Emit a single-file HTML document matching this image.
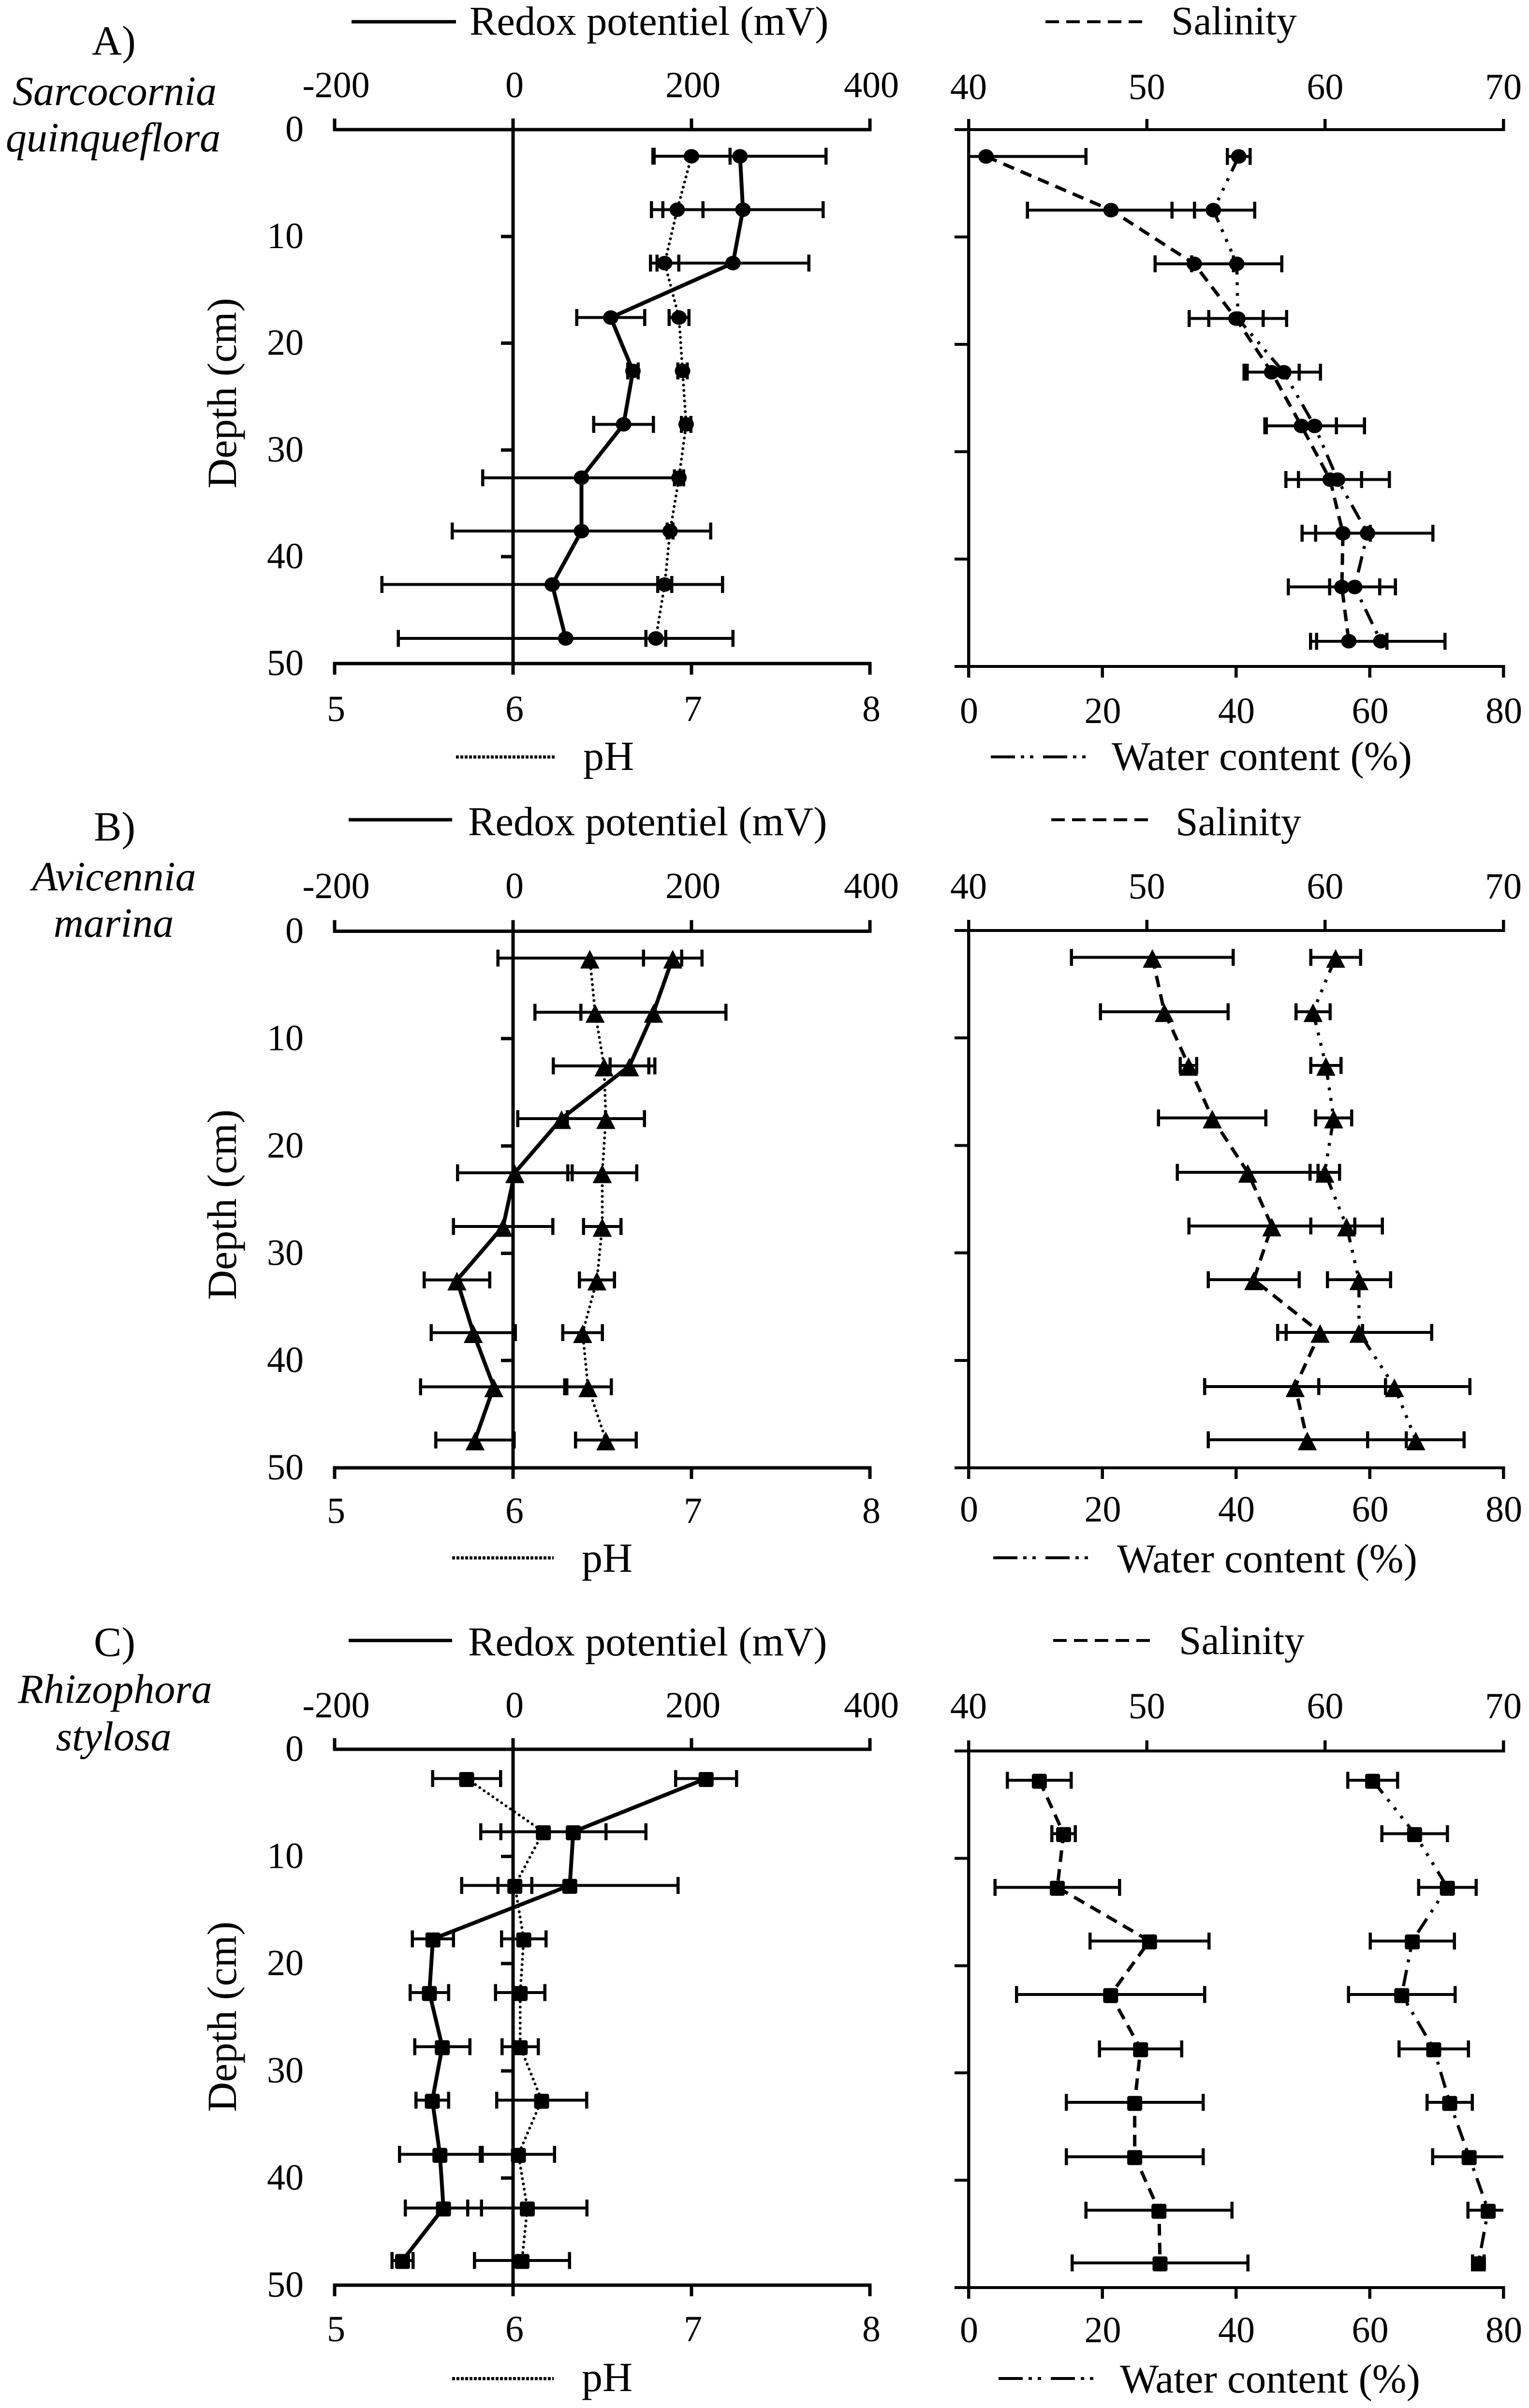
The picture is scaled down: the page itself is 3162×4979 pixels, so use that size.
<!DOCTYPE html>
<html lang="en">
<head>
<meta charset="utf-8">
<title>Soil profiles of redox potential, pH, salinity and water content</title>
<style>
html,body{margin:0;padding:0;background:#fff;}
svg{display:block;}
text{font-family:"Liberation Serif",serif;fill:#000;}
line{shape-rendering:crispEdges;}
</style>
</head>
<body>
<svg id="figure" xmlns="http://www.w3.org/2000/svg" width="3162" height="4979" viewBox="0 0 3162 4979">
<rect x="0" y="0" width="3162" height="4979" fill="#fff"/>

<g>
<text x="190" y="113" font-size="86">A)</text>
<text x="237" y="217" font-size="86" font-style="italic" text-anchor="middle">Sarcocornia</text>
<text x="234" y="313" font-size="86" font-style="italic" text-anchor="middle">quinqueflora</text>
</g>
<g>
<text x="194" y="1738" font-size="86">B)</text>
<text x="236" y="1841" font-size="86" font-style="italic" text-anchor="middle">Avicennia</text>
<text x="235" y="1937" font-size="86" font-style="italic" text-anchor="middle">marina</text>
</g>
<g>
<text x="194" y="3424" font-size="86">C)</text>
<text x="238" y="3521" font-size="86" font-style="italic" text-anchor="middle">Rhizophora</text>
<text x="235" y="3619" font-size="86" font-style="italic" text-anchor="middle">stylosa</text>
</g>

<g>
<line x1="727" y1="45" x2="943" y2="45" stroke="#000" stroke-width="7"/>
<text x="971" y="72" font-size="84.6">Redox potentiel (mV)</text>
<line x1="2162" y1="45" x2="2376" y2="45" stroke="#000" stroke-width="6" stroke-dasharray="28 15"/>
<text x="2422" y="71" font-size="83.5">Salinity</text>
<line x1="943" y1="1565" x2="1149" y2="1565" stroke="#000" stroke-width="6.5" stroke-dasharray="6 3"/>
<text x="1206" y="1592" font-size="86">pH</text>
<line x1="2049" y1="1565" x2="2246" y2="1565" stroke="#000" stroke-width="6" stroke-dasharray="50 12 7 12 7 20"/>
<text x="2299" y="1592" font-size="85">Water content (%)</text>
</g>
<g>
<line x1="721" y1="1695" x2="935" y2="1695" stroke="#000" stroke-width="7"/>
<text x="968" y="1727" font-size="84.6">Redox potentiel (mV)</text>
<line x1="2174" y1="1695" x2="2388" y2="1695" stroke="#000" stroke-width="6" stroke-dasharray="28 15"/>
<text x="2431" y="1727" font-size="83.5">Salinity</text>
<line x1="935" y1="3221" x2="1145" y2="3221" stroke="#000" stroke-width="6.5" stroke-dasharray="6 3"/>
<text x="1203" y="3250" font-size="86">pH</text>
<line x1="2054" y1="3221" x2="2254" y2="3221" stroke="#000" stroke-width="6" stroke-dasharray="50 12 7 12 7 20"/>
<text x="2310" y="3251" font-size="85">Water content (%)</text>
</g>
<g>
<line x1="721" y1="3392" x2="935" y2="3392" stroke="#000" stroke-width="7"/>
<text x="968" y="3423" font-size="84.6">Redox potentiel (mV)</text>
<line x1="2178" y1="3392" x2="2392" y2="3392" stroke="#000" stroke-width="6" stroke-dasharray="28 15"/>
<text x="2438" y="3420" font-size="83.5">Salinity</text>
<line x1="935" y1="4918" x2="1145" y2="4918" stroke="#000" stroke-width="6.5" stroke-dasharray="6 3"/>
<text x="1203" y="4944" font-size="86">pH</text>
<line x1="2065" y1="4918" x2="2266" y2="4918" stroke="#000" stroke-width="6" stroke-dasharray="50 12 7 12 7 20"/>
<text x="2316" y="4947" font-size="85">Water content (%)</text>
</g>

<g id="charts"></g>
</svg>

<script>
// ---- tick labels ----
const redoxTicks = [-200, 0, 200, 400];
const phTicks = [5, 6, 7, 8];
const salinityTicks = [40, 50, 60, 70];
const waterTicks = [0, 20, 40, 60, 80];
const depthTicks = [0, 10, 20, 30, 40, 50];

// ---- categories: sampling depth (cm) per panel ----
const depthA = [2.5, 7.5, 12.5, 17.6, 22.6, 27.6, 32.6, 37.6, 42.6, 47.65];
const depthB = [2.5, 7.55, 12.55, 17.45, 22.5, 27.5, 32.5, 37.4, 42.45, 47.4];
const depthC = [2.73, 7.7, 12.7, 17.7, 22.7, 27.75, 32.75, 37.8, 42.8, 47.7];

// ---- panel A: Sarcocornia quinqueflora ----
const redoxA = [254.4, 257.7, 246.5, 109.5, 134.4, 123.9, 76.7, 76.7, 43.9, 59];
const redoxErrA = [96.4, 89.8, 85.2, 38, 5.9, 33.4, 110.8, 144.9, 190.8, 187.5];
const phA = [7.0, 6.92, 6.85, 6.93, 6.95, 6.97, 6.93, 6.88, 6.85, 6.80];
const phErrA = [0.216, 0.144, 0.079, 0.056, 0.026, 0.026, 0.026, 0.016, 0.039, 0.056];
const salinityA = [40.98, 47.99, 52.66, 55, 57, 58.67, 60.28, 61, 60.94, 61.33];
const salinityErrA = [5.61, 4.69, 2.2, 1.53, 1.55, 1.97, 1.77, 1.53, 3.01, 2.14];
const waterA = [40.41, 36.62, 40.12, 40.29, 47.16, 51.76, 55.2, 59.68, 57.76, 61.66];
const waterErrA = [1.69, 6.17, 6.75, 7.28, 5.47, 7.45, 7.74, 9.78, 3.73, 9.61];

// ---- panel B: Avicennia marina ----
const redoxB = [179, 157.4, 130.5, 54.4, 2, -11.1, -62.9, -44.6, -21.6, -42.6];
const redoxErrB = [32.8, 81.3, 21.6, 49.2, 64.3, 55.7, 36.7, 47.2, 82, 43.9];
const phB = [6.43, 6.46, 6.51, 6.52, 6.50, 6.50, 6.47, 6.39, 6.42, 6.52];
const phErrB = [0.515, 0.338, 0.285, 0.216, 0.193, 0.105, 0.098, 0.111, 0.131, 0.17];
const salinityB = [50.31, 50.98, 52.34, 53.67, 55.66, 57.01, 56, 59.72, 58.32, 59];
const salinityErrB = [4.54, 3.58, 0.46, 3.01, 3.95, 4.65, 2.55, 2.38, 5.07, 5.55];
const waterB = [54.91, 51.53, 53.45, 54.61, 53.28, 56.54, 58.4, 58.4, 63.7, 66.9];
const waterErrB = [3.73, 2.56, 2.27, 2.68, 2.21, 5.36, 4.72, 10.89, 11.3, 7.22];

// ---- panel C: Rhizophora stylosa ----
const redoxC = [216.4, 67.5, 63.6, -89.8, -93.8, -79.3, -90.5, -82, -78, -123.9];
const redoxErrC = [34.1, 81.3, 121.3, 23, 21.6, 30.8, 18.4, 45.2, 42.6, 11.8];
const phC = [5.74, 6.17, 6.01, 6.06, 6.04, 6.04, 6.16, 6.03, 6.08, 6.05];
const phErrC = [0.19, 0.351, 0.095, 0.125, 0.138, 0.102, 0.252, 0.203, 0.334, 0.266];
const salinityC = [43.97, 45.33, 44.98, 50.15, 47.97, 49.65, 49.32, 49.32, 50.68, 50.74];
const salinityErrC = [1.79, 0.66, 3.49, 3.34, 5.28, 2.31, 3.84, 3.84, 4.1, 4.93];
const waterC = [60.44, 66.72, 71.62, 66.38, 64.8, 69.58, 71.97, 74.88, 77.73, 76.27];
const waterErrC = [3.73, 4.89, 4.31, 6.29, 7.98, 5.18, 3.38, 5.47, 3.03, 0.87];

const SVGNS = 'http://www.w3.org/2000/svg';
const LEFT_X0 = 692, LEFT_X1 = 1799, RIGHT_X0 = 2003, RIGHT_X1 = 3109;
const FONT = 76;

function node(parent, tag, attrs) {
  const el = document.createElementNS(SVGNS, tag);
  for (const k in attrs) el.setAttribute(k, attrs[k]);
  parent.appendChild(el);
  return el;
}
function scale(d0, d1, r0, r1) {
  return function (v) { return r0 + (v - d0) * (r1 - r0) / (d1 - d0); };
}

function drawAxisLine(g, x1, y1, x2, y2, w, name) {
  const el = node(g, 'line', {x1: x1, y1: y1, x2: x2, y2: y2, stroke: '#000', 'stroke-width': w});
  
  
}
function drawLabel(g, x, y, str, anchor, name) {
  const el = node(g, 'text', {x: x, y: y, 'font-size': FONT, 'text-anchor': anchor});
  el.textContent = str;
  
  
}

function drawMarker(g, shape, cx, cy, name) {
  let el;
  if (shape === 'circle') {
    el = node(g, 'ellipse', {cx: cx, cy: cy, rx: 16, ry: 15, fill: '#000'});
  } else if (shape === 'square') {
    el = node(g, 'rect', {x: cx - 15.5, y: cy - 13.5, width: 31, height: 31, rx: 4, fill: '#000'});
  } else {
    el = node(g, 'path', {d: 'M' + cx + ' ' + (cy - 16) + ' L' + (cx + 19) + ' ' + (cy + 21) + ' L' + (cx - 19) + ' ' + (cy + 21) + ' Z', fill: '#000', 'stroke': '#000', 'stroke-width': 1, 'stroke-linejoin': 'round'});
  }
  
  
}

function drawErrorBars(g, values, errors, depths, xs, ys, dMin, dMax, name) {
  values.forEach(function (v, i) {
    const y = ys(depths[i]);
    const lo = v - errors[i], hi = v + errors[i];
    const stem = node(g, 'line', {x1: xs(Math.max(lo, dMin)), y1: y, x2: xs(Math.min(hi, dMax)), y2: y, stroke: '#000', 'stroke-width': 6});
    
    
    [lo, hi].forEach(function (e) {
      if (e < dMin || e > dMax) return;
      const cap = node(g, 'line', {x1: xs(e), y1: y - 17.5, x2: xs(e), y2: y + 17.5, stroke: '#000', 'stroke-width': 6.5});
      
      
    });
  });
}

function drawSeries(g, values, depths, xs, ys, style, name) {
  const pts = values.map(function (v, i) { return xs(v) + ',' + ys(depths[i]); }).join(' ');
  const el = node(g, 'polyline', Object.assign({points: pts, fill: 'none', stroke: '#000'}, style));
  
  
}

function drawPanel(root, p) {
  const g = node(root, 'g', {});
  
  

  // ---------- left chart: redox (top axis) and pH (bottom axis) ----------
  const left = node(g, 'g', {});
  
  
  const xRedox = scale(redoxTicks[0], redoxTicks[redoxTicks.length - 1], LEFT_X0, LEFT_X1);
  const xPh = scale(phTicks[0], phTicks[phTicks.length - 1], LEFT_X0, LEFT_X1);
  const yL = scale(0, 50, p.leftTop, p.leftBottom);
  const zeroX = xRedox(0);

  drawErrorBars(left, p.redox, p.redoxErr, p.depth, xRedox, yL, -200, 400, 'redox');
  drawErrorBars(left, p.ph, p.phErr, p.depth, xPh, yL, 5, 8, 'ph');

  drawAxisLine(left, LEFT_X0 - 3, p.leftTop, LEFT_X1 + 3, p.leftTop, 7, 'redox-axis-line');
  drawAxisLine(left, LEFT_X0 - 3, p.leftBottom, LEFT_X1 + 3, p.leftBottom, 7, 'ph-axis-line');
  redoxTicks.forEach(function (t) {
    if (t !== 0) drawAxisLine(left, xRedox(t), p.leftTop - 23, xRedox(t), p.leftTop + 3, 7, 'redox-tick');
    drawLabel(left, xRedox(t) + 3, p.topLabelL, String(t), 'middle', 'redox-tick-label');
  });
  phTicks.forEach(function (t) {
    if (t !== 6) drawAxisLine(left, xPh(t), p.leftBottom - 3, xPh(t), p.leftBottom + 23, 7, 'ph-tick');
    drawLabel(left, xPh(t) + 3, p.bottomLabelL, String(t), 'middle', 'ph-tick-label');
  });
  drawAxisLine(left, zeroX, p.leftTop - 23, zeroX, p.leftBottom + 23, 7, 'depth-axis-line');
  depthTicks.forEach(function (t) {
    if (t !== 0 && t !== 50) drawAxisLine(left, zeroX - 25, yL(t), zeroX, yL(t), 7, 'depth-tick');
    drawLabel(left, 628, yL(t) + 24, String(t), 'end', 'depth-tick-label');
  });
  const title = node(left, 'text', {transform: 'translate(488 ' + p.depthTitleY + ') rotate(-90)', 'font-size': 86, 'text-anchor': 'middle'});
  title.textContent = 'Depth (cm)';
  
  

  drawSeries(left, p.ph, p.depth, xPh, yL, {'stroke-width': 6, 'stroke-dasharray': '0 11', 'stroke-linecap': 'round'}, 'ph');
  drawSeries(left, p.redox, p.depth, xRedox, yL, {'stroke-width': 8, 'stroke-linejoin': 'round'}, 'redox');
  p.ph.forEach(function (v, i) {
    drawMarker(left, p.marker, xPh(v), yL(p.depth[i]), 'ph-marker');
  });
  p.redox.forEach(function (v, i) {
    drawMarker(left, p.marker, xRedox(v), yL(p.depth[i]), 'redox-marker');
  });

  // ---------- right chart: salinity (top axis) and water content (bottom axis) ----------
  const right = node(g, 'g', {});
  
  
  const xSal = scale(salinityTicks[0], salinityTicks[salinityTicks.length - 1], RIGHT_X0, RIGHT_X1);
  const xWat = scale(waterTicks[0], waterTicks[waterTicks.length - 1], RIGHT_X0, RIGHT_X1);
  const yR = scale(0, 50, p.rightTop, p.rightBottom);

  drawErrorBars(right, p.salinity, p.salinityErr, p.depth, xSal, yR, 40, 70, 'salinity');
  drawErrorBars(right, p.water, p.waterErr, p.depth, xWat, yR, 0, 80, 'water');

  drawAxisLine(right, RIGHT_X0 - 29, p.rightTop, RIGHT_X1 + 3, p.rightTop, 6, 'salinity-axis-line');
  drawAxisLine(right, RIGHT_X0 - 29, p.rightBottom, RIGHT_X1 + 3, p.rightBottom, 6, 'water-axis-line');
  salinityTicks.forEach(function (t) {
    if (t !== 40) drawAxisLine(right, xSal(t), p.rightTop - 22, xSal(t), p.rightTop + 3, 6.5, 'salinity-tick');
    drawLabel(right, xSal(t), p.topLabelR, String(t), 'middle', 'salinity-tick-label');
  });
  waterTicks.forEach(function (t) {
    if (t !== 0) drawAxisLine(right, xWat(t), p.rightBottom - 3, xWat(t), p.rightBottom + 23, 6.5, 'water-tick');
    drawLabel(right, xWat(t) + 1, p.bottomLabelR, String(t), 'middle', 'water-tick-label');
  });
  drawAxisLine(right, RIGHT_X0, p.rightTop - 22, RIGHT_X0, p.rightBottom + 23, 6.5, 'right-depth-axis-line');
  depthTicks.forEach(function (t) {
    if (t !== 0 && t !== 50) drawAxisLine(right, RIGHT_X0 - 29, yR(t), RIGHT_X0, yR(t), 6, 'right-depth-tick');
  });

  drawSeries(right, p.salinity, p.depth, xSal, yR, {'stroke-width': 7, 'stroke-dasharray': '24 15'}, 'salinity');
  drawSeries(right, p.water, p.depth, xWat, yR, {'stroke-width': 6.5, 'stroke-dasharray': '34 16 6 16 6 16 6 16'}, 'water');
  p.salinity.forEach(function (v, i) {
    drawMarker(right, p.marker, xSal(v), yR(p.depth[i]), 'salinity-marker');
  });
  p.water.forEach(function (v, i) {
    drawMarker(right, p.marker, xWat(v), yR(p.depth[i]), 'water-marker');
  });
}

const chartsRoot = document.getElementById('charts');
drawPanel(chartsRoot, {
  id: 'a', marker: 'circle', depth: depthA,
  redox: redoxA, redoxErr: redoxErrA, ph: phA, phErr: phErrA,
  salinity: salinityA, salinityErr: salinityErrA, water: waterA, waterErr: waterErrA,
  leftTop: 268, leftBottom: 1372, rightTop: 268, rightBottom: 1378,
  topLabelL: 201, bottomLabelL: 1491, topLabelR: 205, bottomLabelR: 1495, depthTitleY: 813
});
drawPanel(chartsRoot, {
  id: 'b', marker: 'triangle', depth: depthB,
  redox: redoxB, redoxErr: redoxErrB, ph: phB, phErr: phErrB,
  salinity: salinityB, salinityErr: salinityErrB, water: waterB, waterErr: waterErrB,
  leftTop: 1925.7, leftBottom: 3035, rightTop: 1924, rightBottom: 3035,
  topLabelL: 1857, bottomLabelL: 3149, topLabelR: 1858, bottomLabelR: 3146, depthTitleY: 2491
});
drawPanel(chartsRoot, {
  id: 'c', marker: 'square', depth: depthC,
  redox: redoxC, redoxErr: redoxErrC, ph: phC, phErr: phErrC,
  salinity: salinityC, salinityErr: salinityErrC, water: waterC, waterErr: waterErrC,
  leftTop: 3617, leftBottom: 4725, rightTop: 3620.5, rightBottom: 4730,
  topLabelL: 3551, bottomLabelL: 4841, topLabelR: 3553, bottomLabelR: 4843, depthTitleY: 4170
});
</script>
</body>
</html>
